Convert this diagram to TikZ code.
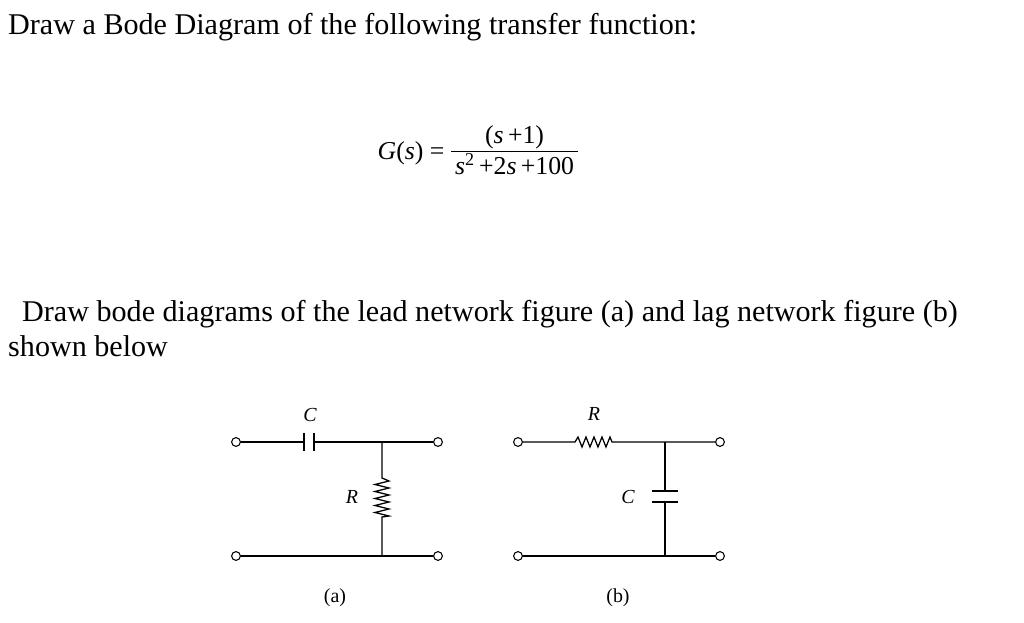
\documentclass[tikz,border=0pt]{standalone}
\usepackage{amsmath}
\usepackage{fontspec}
\setmainfont{Liberation Serif}
\usetikzlibrary{positioning}

\begin{document}
\begin{tikzpicture}[x=0.03cm, y=-0.03cm,
  wire/.style = {line width=1.1pt},
  term/.style = {circle, draw, line width=0.9pt, inner sep=0pt, minimum size=7.5pt, fill=white},
  txt/.style = {anchor=base west, inner sep=0pt, font=\fontsize{25.7}{30}\selectfont},
  lbl/.style = {inner sep=0pt, font=\fontsize{17}{19}\selectfont}]
\useasboundingbox (0,0) rectangle (1024,623);
\node[txt] (title) at (8,35) {Draw a Bode Diagram of the following transfer function:};
\node[inner sep=0pt, font=\fontsize{22}{26}\selectfont] (eq) at (478,153)
  {\textit{G}(\textit{s}) = \begin{tabular}{@{\,}c@{\,}}(\textit{s}\,+1)\\[-2pt]\hline\rule{0pt}{20pt}\textit{s}\textsuperscript{2}\,+2\textit{s}\,+100\end{tabular}};
\node[txt] (line1) at (22,322) {Draw bode diagrams of the lead network figure (a) and lag network figure (b)};
\node[txt] (line2) at (8,357) {shown below};
% lead network (a)
\node[term] (a1) at (236,442) {};
\node[term] (a2) at (438,442) {};
\node[term] (a3) at (236,556) {};
\node[term] (a4) at (438,556) {};
\coordinate (ca) at (304,442);
\coordinate (cb) at (314,442);
\coordinate (ja) at (382,442);
\coordinate (jb) at (382,556);
\coordinate (ra) at (382,478);
\coordinate (rb) at (382,517);
\draw[wire] (a1) -- (ca) (cb) -- (a2) (a3) -- (a4);
\draw[wire] (ca) ++(0,-9) -- ++(0,18) (cb) ++(0,-9) -- ++(0,18);
\draw[wire] (ja) -- (ra) -- ++(7,3) \foreach \i in {1,...,5}{ -- ++(-14,3.5) -- ++(14,3.5)} -- (rb) -- (jb);
\node[lbl, font=\fontsize{17}{19}\selectfont\itshape] (Ca) at (310,415) {C};
\node[lbl, font=\fontsize{17}{19}\selectfont\itshape] (Ra) at (352,497) {R};
\node[lbl] (capa) at (335,598) {(a)};
% lag network (b)
\node[term] (b1) at (518,442) {};
\node[term] (b2) at (720,442) {};
\node[term] (b3) at (518,556) {};
\node[term] (b4) at (720,556) {};
\coordinate (sa) at (575,442);
\coordinate (sb) at (612,442);
\coordinate (ka) at (665,442);
\coordinate (kb) at (665,556);
\coordinate (pa) at (665,491);
\coordinate (pb) at (665,502);
\draw[wire] (b1) -- (sa) -- ++(3,-5) \foreach \i in {1,...,4}{ -- ++(4,10) -- ++(4,-10)} -- (sb) -- (b2);
\draw[wire] (b3) -- (b4);
\draw[wire] (ka) -- (pa) (pb) -- (kb);
\draw[wire] (pa) ++(-13,0) -- ++(26,0) (pb) ++(-13,0) -- ++(26,0);
\node[lbl, font=\fontsize{17}{19}\selectfont\itshape] (Rb) at (594,414) {R};
\node[lbl, font=\fontsize{17}{19}\selectfont\itshape] (Cb) at (628,497) {C};
\node[lbl] (capb) at (618,598) {(b)};
\end{tikzpicture}
\end{document}
